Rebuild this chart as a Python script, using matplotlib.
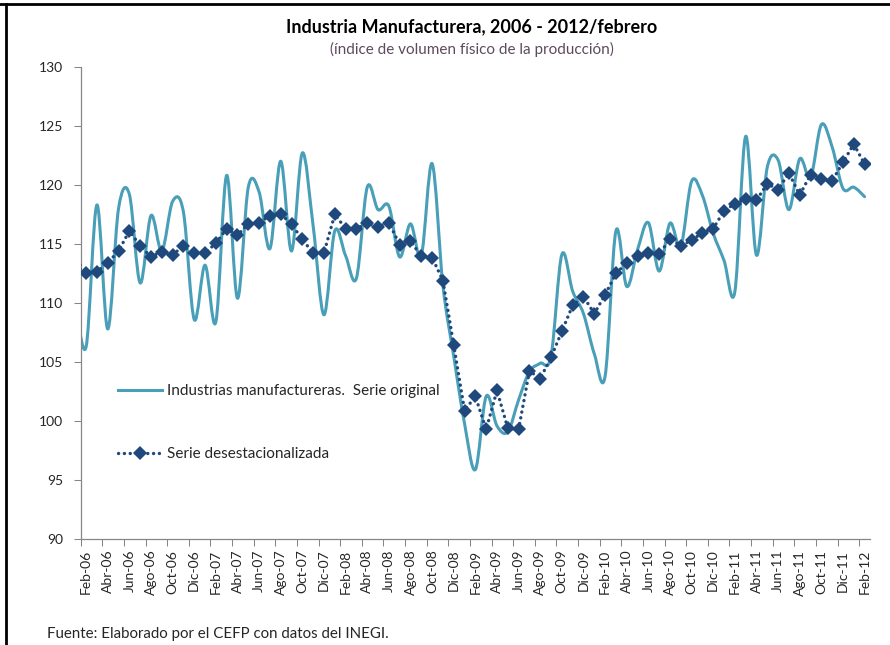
import numpy as np
import matplotlib
matplotlib.use("Agg")
import matplotlib.pyplot as plt
from matplotlib.path import Path
from matplotlib.patches import PathPatch
from matplotlib.lines import Line2D

plt.rcParams['font.family'] = ['Lato', 'DejaVu Sans']

# Monthly values; first element = Ene-06 (only its edge is visible at the left of the axis),
# then Feb-06 ... Feb-12
serie_original = [
    110.2,
    106.3, 118.3, 107.8, 118.0, 119.2, 111.7, 117.4, 114.4, 118.6, 117.7, 108.6,   # Feb-06..Dic-06
    113.2, 108.4, 120.8, 110.4, 119.8, 119.4, 114.6, 122.0, 114.4, 122.7, 116.5, 109.0,  # 2007
    116.1, 114.0, 112.1, 119.8, 117.9, 118.2, 113.9, 116.7, 114.0, 121.8, 111.5, 105.5,  # 2008
    99.8, 95.9, 102.1, 99.6, 99.1, 101.8, 104.2, 104.9, 105.5, 114.1, 111.0, 109.1,      # 2009
    105.7, 103.8, 116.1, 111.4, 114.5, 116.8, 112.7, 116.75, 114.8, 120.3, 119.1, 115.9, # 2010
    113.6, 110.95, 124.1, 114.05, 121.5, 122.1, 117.9, 122.2, 120.6, 125.1, 123.2, 119.7, # 2011
    119.8, 119.0,                                                                         # 2012
]
serie_desest = [
    113.2,
    112.5, 112.65, 113.4, 114.4, 116.1, 114.85, 113.9, 114.35, 114.1, 114.8, 114.2,
    114.25, 115.05, 116.3, 115.75, 116.7, 116.8, 117.4, 117.55, 116.65, 115.4, 114.2, 114.25,
    117.5, 116.3, 116.3, 116.75, 116.45, 116.8, 114.95, 115.25, 113.95, 113.85, 111.9, 106.45,
    100.9, 102.1, 99.3, 102.6, 99.4, 99.3, 104.25, 103.6, 105.4, 107.6, 109.8, 110.55,
    109.1, 110.7, 112.5, 113.4, 113.98, 114.25, 114.15, 115.4, 114.85, 115.3, 115.95, 116.3,
    117.8, 118.4, 118.8, 118.7, 120.1, 119.6, 121.0, 119.15, 120.85, 120.5, 120.35, 121.9,
    123.45, 121.75,
]
tick_labels = [
    "Feb-06", "Abr-06", "Jun-06", "Ago-06", "Oct-06", "Dic-06",
    "Feb-07", "Abr-07", "Jun-07", "Ago-07", "Oct-07", "Dic-07",
    "Feb-08", "Abr-08", "Jun-08", "Ago-08", "Oct-08", "Dic-08",
    "Feb-09", "Abr-09", "Jun-09", "Ago-09", "Oct-09", "Dic-09",
    "Feb-10", "Abr-10", "Jun-10", "Ago-10", "Oct-10", "Dic-10",
    "Feb-11", "Abr-11", "Jun-11", "Ago-11", "Oct-11", "Dic-11",
    "Feb-12",
]
label_original = "Industrias manufactureras.  Serie original"
label_desest = "Serie desestacionalizada"

col_orig = '#4a9fb8'
col_sa = '#1f497d'
gray = '#868686'
txt = '#262626'

x = np.arange(len(serie_original)) - 1  # Feb-06 -> 0


def smooth_path(xs, ys):
    pts = np.column_stack([xs, ys]).astype(float)
    n = len(pts)
    verts = [pts[0]]
    codes = [Path.MOVETO]
    for i in range(n - 1):
        p0 = pts[i - 1] if i > 0 else pts[i]
        p1 = pts[i]
        p2 = pts[i + 1]
        p3 = pts[i + 2] if i + 2 < n else pts[i + 1]
        c1 = p1 + (p2 - p0) / 6.0
        c2 = p2 - (p3 - p1) / 6.0
        verts += [c1, c2, p2]
        codes += [Path.CURVE4] * 3
    return Path(verts, codes)


fig = plt.figure(figsize=(8.9, 6.45), dpi=100)
ax = fig.add_axes([80.7 / 890, 1 - 539.3 / 645, (870 - 80.7) / 890, (539.3 - 66.7) / 645])

patch = PathPatch(smooth_path(x, serie_original), fill=False, edgecolor=col_orig,
                  lw=2.2, capstyle='round', joinstyle='round', zorder=2)
ax.add_patch(patch)

ax.plot(x, serie_desest, color=col_sa, lw=2.4, linestyle=(0, (0.05, 1.7)),
        dash_capstyle='round', marker='D', ms=7, markeredgewidth=0, zorder=3)

ax.set_xlim(-0.5, 72.5)
ax.set_ylim(90, 130)
ax.set_yticks(np.arange(90, 131, 5))

ax.set_xticks(np.arange(-0.5, 72, 2))
ax.set_xticklabels([])
ax.set_xticks(np.arange(0, 73, 2), minor=True)
ax.set_xticklabels(tick_labels, minor=True, rotation=90)

ax.tick_params(axis='x', which='major', length=5, width=0.75, color=gray, direction='out')
ax.tick_params(axis='x', which='minor', length=0, pad=7.5, labelsize=10, labelcolor=txt)
ax.tick_params(axis='y', length=5, width=0.75, color=gray, direction='out', pad=7.5,
               labelsize=10, labelcolor=txt)

for s in ['top', 'right']:
    ax.spines[s].set_visible(False)
for s in ['left', 'bottom']:
    ax.spines[s].set_color(gray)
    ax.spines[s].set_linewidth(0.9)

handles = [
    Line2D([], [], color=col_orig, lw=2.2),
    Line2D([], [], color=col_sa, lw=2.4, linestyle=(0, (0.05, 1.7)), dash_capstyle='round',
           marker='D', ms=7, markeredgewidth=0),
]
leg = fig.legend(handles, [label_original, label_desest], loc='upper left',
                 bbox_to_anchor=(118 / 890, 1 - 384 / 645), frameon=False,
                 fontsize=11, handlelength=2.9, handletextpad=0.3, labelspacing=3.2,
                 borderpad=0, borderaxespad=0, numpoints=1)
for t in leg.get_texts():
    t.set_color(txt)

fig.text(472 / 890, 1 - 27 / 645, "Industria Manufacturera, 2006 - 2012/febrero",
         ha='center', va='center', fontsize=13, fontweight='bold', color='black')
fig.text(472 / 890, 1 - 49 / 645, "(índice de volumen físico de la producción)",
         ha='center', va='center', fontsize=11, color='#5e4a5e')
fig.text(47 / 890, 1 - 634 / 645, "Fuente: Elaborado por el CEFP con datos del INEGI.",
         ha='left', va='center', fontsize=10.8, color=txt)

fig.add_artist(Line2D([0, 1], [1 - 4 / 645] * 2, transform=fig.transFigure, color='black', lw=2))
fig.add_artist(Line2D([6 / 890] * 2, [0, 1 - 4 / 645], transform=fig.transFigure, color='black', lw=2))

fig.savefig("out.png", dpi=100, facecolor='white')
